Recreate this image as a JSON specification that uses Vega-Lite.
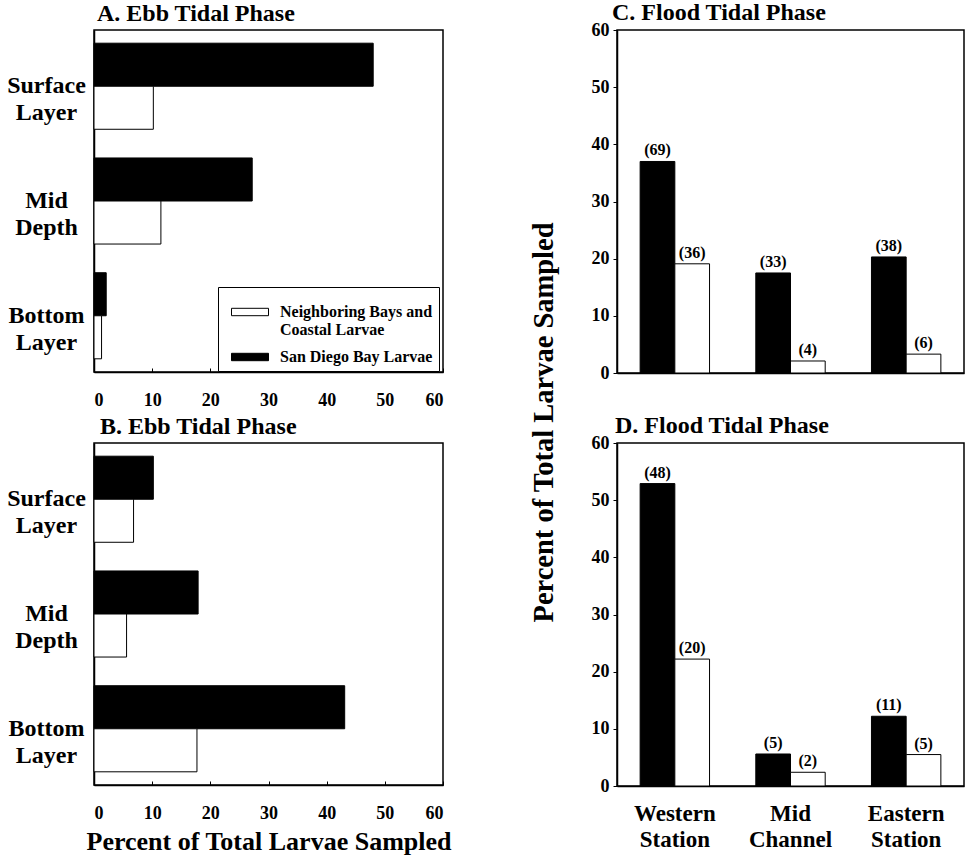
{
  "$schema": "https://vega.github.io/schema/vega-lite/v6.json",
  "background": "white",
  "padding": {"left": 5, "top": 0, "right": 4, "bottom": 0},
  "datasets": {
    "all": [
      {"panel": "A", "cat": "Surface Layer", "series": "San Diego Bay Larvae", "value": 48.0},
      {"panel": "A", "cat": "Surface Layer", "series": "Neighboring Bays and Coastal Larvae", "value": 10.2},
      {"panel": "A", "cat": "Mid Depth", "series": "San Diego Bay Larvae", "value": 27.2},
      {"panel": "A", "cat": "Mid Depth", "series": "Neighboring Bays and Coastal Larvae", "value": 11.5},
      {"panel": "A", "cat": "Bottom Layer", "series": "San Diego Bay Larvae", "value": 2.1},
      {"panel": "A", "cat": "Bottom Layer", "series": "Neighboring Bays and Coastal Larvae", "value": 1.3},
      {"panel": "B", "cat": "Surface Layer", "series": "San Diego Bay Larvae", "value": 10.2},
      {"panel": "B", "cat": "Surface Layer", "series": "Neighboring Bays and Coastal Larvae", "value": 6.8},
      {"panel": "B", "cat": "Mid Depth", "series": "San Diego Bay Larvae", "value": 17.9},
      {"panel": "B", "cat": "Mid Depth", "series": "Neighboring Bays and Coastal Larvae", "value": 5.6},
      {"panel": "B", "cat": "Bottom Layer", "series": "San Diego Bay Larvae", "value": 43.1},
      {"panel": "B", "cat": "Bottom Layer", "series": "Neighboring Bays and Coastal Larvae", "value": 17.7},
      {"panel": "C", "cat": "Western Station", "series": "San Diego Bay Larvae", "value": 37.0, "n": "(69)"},
      {"panel": "C", "cat": "Western Station", "series": "Neighboring Bays and Coastal Larvae", "value": 19.1, "n": "(36)"},
      {"panel": "C", "cat": "Mid Channel", "series": "San Diego Bay Larvae", "value": 17.5, "n": "(33)"},
      {"panel": "C", "cat": "Mid Channel", "series": "Neighboring Bays and Coastal Larvae", "value": 2.1, "n": "(4)"},
      {"panel": "C", "cat": "Eastern Station", "series": "San Diego Bay Larvae", "value": 20.3, "n": "(38)"},
      {"panel": "C", "cat": "Eastern Station", "series": "Neighboring Bays and Coastal Larvae", "value": 3.3, "n": "(6)"},
      {"panel": "D", "cat": "Western Station", "series": "San Diego Bay Larvae", "value": 52.9, "n": "(48)"},
      {"panel": "D", "cat": "Western Station", "series": "Neighboring Bays and Coastal Larvae", "value": 22.2, "n": "(20)"},
      {"panel": "D", "cat": "Mid Channel", "series": "San Diego Bay Larvae", "value": 5.6, "n": "(5)"},
      {"panel": "D", "cat": "Mid Channel", "series": "Neighboring Bays and Coastal Larvae", "value": 2.4, "n": "(2)"},
      {"panel": "D", "cat": "Eastern Station", "series": "San Diego Bay Larvae", "value": 12.2, "n": "(11)"},
      {"panel": "D", "cat": "Eastern Station", "series": "Neighboring Bays and Coastal Larvae", "value": 5.5, "n": "(5)"}
    ]
  },
  "config": {
    "font": "Liberation Serif",
    "view": {"stroke": "black", "strokeWidth": 1.5},
    "axis": {
      "labelFont": "Liberation Serif", "labelFontWeight": "bold", "labelColor": "black",
      "titleFont": "Liberation Serif", "titleFontWeight": "bold", "titleColor": "black",
      "domainColor": "black", "tickColor": "black", "grid": false, "domainWidth": 1.5
    },
    "title": {"font": "Liberation Serif", "fontWeight": "bold", "fontSize": 24, "anchor": "start", "color": "black", "offset": 0, "frame": "group"},
    "text": {"font": "Liberation Serif"}
  },
  "resolve": {"scale": {"fill": "independent"}, "legend": {"fill": "independent"}},
  "bounds": "flush",
  "columns": 2,
  "spacing": {"row": 70, "column": 174},
  "concat": [
    {
      "title": {"text": "A. Ebb Tidal Phase", "dx": 3},
      "width": 349, "height": 342,
      "data": {"name": "all"},
      "transform": [{"filter": "datum.panel == 'A'"}],
      "mark": {"type": "bar", "stroke": "black", "strokeWidth": 1},
      "encoding": {
        "y": {"field": "cat", "type": "nominal", "sort": ["Surface Layer", "Mid Depth", "Bottom Layer"],
              "scale": {"paddingInner": 0.25, "paddingOuter": 0.115},
              "axis": {"title": null, "ticks": false, "labelExpr": "split(datum.label, ' ')", "labelAlign": "center", "labelBaseline": "middle", "labelPadding": 48, "labelFontSize": 24, "labelLineHeight": 27, "labelAngle": 0}},
        "yOffset": {"field": "series", "type": "nominal", "sort": ["San Diego Bay Larvae", "Neighboring Bays and Coastal Larvae"], "scale": {"paddingInner": 0, "paddingOuter": 0}},
        "x": {"field": "value", "type": "quantitative", "scale": {"domain": [0, 60]},
              "axis": {"title": null, "values": [0, 10, 20, 30, 40, 50, 60], "tickSize": -4, "labelPadding": 23, "labelFontSize": 18}},
        "fill": {"field": "series", "type": "nominal",
                 "scale": {"domain": ["Neighboring Bays and Coastal Larvae", "San Diego Bay Larvae"], "range": ["white", "black"]},
                 "legend": {
                   "orient": "none", "legendX": 124, "legendY": 257, "title": null,
                   "symbolType": "M-1,-0.2H1V0.2H-1Z", "symbolSize": 1369, "symbolOffset": 7,
                   "symbolStrokeColor": "black", "symbolStrokeWidth": 1,
                   "labelFont": "Liberation Serif", "labelFontWeight": "bold", "labelFontSize": 16, "labelColor": "black",
                   "labelLineHeight": 17, "labelLimit": 400, "labelOffset": 11,
                   "labelExpr": "datum.label == 'Neighboring Bays and Coastal Larvae' ? ['Neighboring Bays and', 'Coastal Larvae'] : datum.label",
                   "padding": 6, "rowPadding": 0, "strokeColor": "black", "fillColor": "white"
                 }}
      }
    },
    {
      "title": {"text": "C. Flood Tidal Phase", "dx": -5, "dy": 8},
      "width": 347, "height": 343,
      "data": {"name": "all"},
      "transform": [{"filter": "datum.panel == 'C'"}],
      "encoding": {
        "x": {"field": "cat", "type": "nominal", "sort": ["Western Station", "Mid Channel", "Eastern Station"],
              "scale": {"paddingInner": 0.4, "paddingOuter": 0.2},
              "axis": {"title": null, "labels": false, "ticks": false}},
        "xOffset": {"field": "series", "type": "nominal", "sort": ["San Diego Bay Larvae", "Neighboring Bays and Coastal Larvae"], "scale": {"paddingInner": 0, "paddingOuter": 0}},
        "y": {"field": "value", "type": "quantitative", "scale": {"domain": [0, 60]},
              "axis": {"title": "Percent of Total Larvae Sampled", "titleFontSize": 28.5, "titlePadding": 33, "titleY": 392,
                       "values": [0, 10, 20, 30, 40, 50, 60], "tickSize": 4, "labelPadding": 4, "labelFontSize": 18}}
      },
      "layer": [
        {"mark": {"type": "bar", "stroke": "black", "strokeWidth": 1},
         "encoding": {"fill": {"field": "series", "type": "nominal",
                 "scale": {"domain": ["Neighboring Bays and Coastal Larvae", "San Diego Bay Larvae"], "range": ["white", "black"]},
                 "legend": null}}},
        {"mark": {"type": "text", "baseline": "bottom", "dy": -3, "fontSize": 16, "fontWeight": "bold", "color": "black"},
         "encoding": {"text": {"field": "n"}}}
      ]
    },
    {
      "title": {"text": "B. Ebb Tidal Phase", "dx": 6},
      "width": 349, "height": 342,
      "data": {"name": "all"},
      "transform": [{"filter": "datum.panel == 'B'"}],
      "mark": {"type": "bar", "stroke": "black", "strokeWidth": 1},
      "encoding": {
        "y": {"field": "cat", "type": "nominal", "sort": ["Surface Layer", "Mid Depth", "Bottom Layer"],
              "scale": {"paddingInner": 0.25, "paddingOuter": 0.115},
              "axis": {"title": null, "ticks": false, "labelExpr": "split(datum.label, ' ')", "labelAlign": "center", "labelBaseline": "middle", "labelPadding": 48, "labelFontSize": 24, "labelLineHeight": 27, "labelAngle": 0}},
        "yOffset": {"field": "series", "type": "nominal", "sort": ["San Diego Bay Larvae", "Neighboring Bays and Coastal Larvae"], "scale": {"paddingInner": 0, "paddingOuter": 0}},
        "x": {"field": "value", "type": "quantitative", "scale": {"domain": [0, 60]},
              "axis": {"title": "Percent of Total Larvae Sampled", "titleFontSize": 26, "titlePadding": 6, "values": [0, 10, 20, 30, 40, 50, 60], "tickSize": -4, "labelPadding": 23, "labelFontSize": 18}},
        "fill": {"field": "series", "type": "nominal",
                 "scale": {"domain": ["Neighboring Bays and Coastal Larvae", "San Diego Bay Larvae"], "range": ["white", "black"]},
                 "legend": null}
      }
    },
    {
      "title": {"text": "D. Flood Tidal Phase", "dx": -2, "dy": 8},
      "width": 347, "height": 343,
      "data": {"name": "all"},
      "transform": [{"filter": "datum.panel == 'D'"}],
      "encoding": {
        "x": {"field": "cat", "type": "nominal", "sort": ["Western Station", "Mid Channel", "Eastern Station"],
              "scale": {"paddingInner": 0.4, "paddingOuter": 0.2},
              "axis": {"title": null, "ticks": false, "labelAngle": 0, "labelExpr": "split(datum.label, ' ')", "labelFontSize": 23, "labelLineHeight": 26, "labelPadding": 16}},
        "xOffset": {"field": "series", "type": "nominal", "sort": ["San Diego Bay Larvae", "Neighboring Bays and Coastal Larvae"], "scale": {"paddingInner": 0, "paddingOuter": 0}},
        "y": {"field": "value", "type": "quantitative", "scale": {"domain": [0, 60]},
              "axis": {"title": null, "values": [0, 10, 20, 30, 40, 50, 60], "tickSize": 4, "labelPadding": 4, "labelFontSize": 18}}
      },
      "layer": [
        {"mark": {"type": "bar", "stroke": "black", "strokeWidth": 1},
         "encoding": {"fill": {"field": "series", "type": "nominal",
                 "scale": {"domain": ["Neighboring Bays and Coastal Larvae", "San Diego Bay Larvae"], "range": ["white", "black"]},
                 "legend": null}}},
        {"mark": {"type": "text", "baseline": "bottom", "dy": -3, "fontSize": 16, "fontWeight": "bold", "color": "black"},
         "encoding": {"text": {"field": "n"}}}
      ]
    }
  ]
}
